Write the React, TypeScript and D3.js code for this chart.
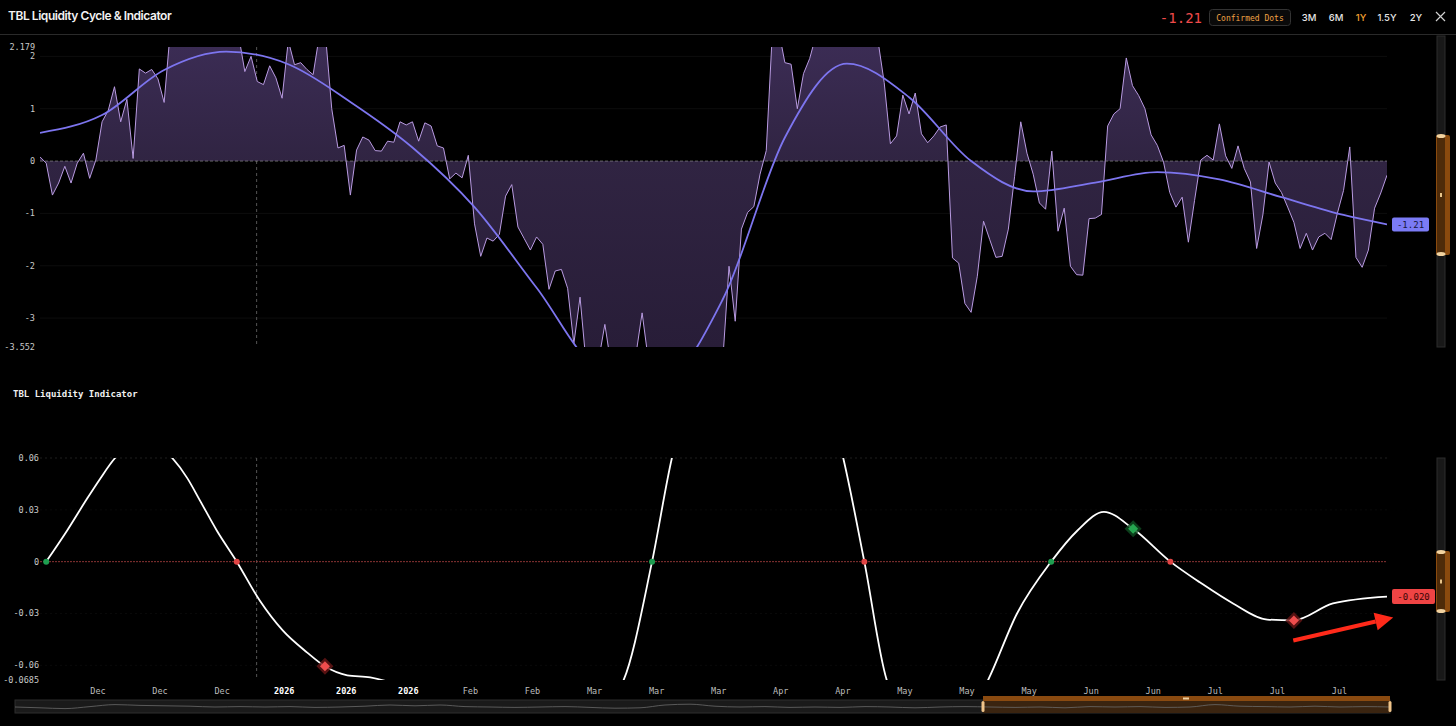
import React, { useEffect } from "react";
import * as d3 from "d3";

// ---- data ----
const tickLabels = [
  "Dec", "Dec", "Dec", "2026", "2026", "2026", "Feb", "Feb", "Mar", "Mar", "Mar",
  "Apr", "Apr", "May", "May", "May", "Jun", "Jun", "Jul", "Jul", "Jul",
];
const firstTickDay = 9.34;
const tickStepDays = 10;

// daily liquidity cycle (raw)
const cycleRaw = [
  0.08, -0.04, -0.65, -0.42, -0.1, -0.42, -0.04, 0.15, -0.33, 0.02,
  0.75, 0.97, 1.42, 0.75, 1.18, 0.05, 1.76, 1.68, 1.75, 1.57,
  1.12, 2.5, 2.7, 2.9, 3.1, 3.0, 2.8, 2.9, 3.1, 3.0,
  2.7, 2.6, 2.4, 1.71, 2.0, 1.52, 1.46, 1.82, 1.59, 1.2,
  2.3, 1.84, 1.88, 1.75, 1.65, 2.4, 2.4, 1.0, 0.25, 0.3,
  -0.65, 0.21, 0.46, 0.4, 0.2, 0.19, 0.38, 0.36, 0.75, 0.69,
  0.75, 0.38, 0.73, 0.67, 0.29, 0.25, -0.34, -0.23, -0.32, 0.11,
  -1.2, -1.82, -1.47, -1.53, -1.4, -0.67, -0.45, -1.26, -1.48, -1.7,
  -1.45, -1.59, -2.45, -2.1, -2.07, -2.43, -3.49, -2.6, -3.9, -4.1,
  -3.8, -3.12, -3.9, -4.2, -4.0, -3.9, -3.7, -2.9, -3.8, -4.1,
  -4.3, -4.4, -4.2, -4.0, -4.3, -4.5, -4.2, -4.0, -3.9, -4.1,
  -3.8, -2.01, -3.06, -1.3, -0.98, -0.87, -0.25, 0.2, 2.5, 2.5,
  1.88, 1.85, 1.0, 1.67, 1.96, 2.4, 2.6, 2.8, 2.7, 2.9,
  3.0, 2.8, 2.7, 2.6, 2.5, 2.3, 1.5, 0.33, 0.48, 1.26,
  0.9, 1.3, 0.52, 0.35, 0.48, 0.65, 0.69, -1.85, -1.95, -2.72,
  -2.89, -2.2, -1.15, -1.5, -1.84, -1.82, -1.3, -0.3, 0.75, 0.15,
  -0.25, -0.8, -0.92, 0.19, -1.34, -0.9, -2.01, -2.17, -2.18, -1.1,
  -1.09, -1.02, 0.67, 0.9, 1.0, 1.97, 1.44, 1.25, 1.0, 0.5,
  0.3, -0.02, -0.6, -0.88, -0.69, -1.55, -0.75, 0.02, 0.11, 0.02,
  0.71, 0.1, -0.14, 0.29, -0.14, -0.4, -1.67, -1.03, -0.02, -0.42,
  -0.6, -0.88, -1.17, -1.67, -1.38, -1.7, -1.45, -1.38, -1.5, -1.0,
  -0.56, 0.27, -1.84, -2.03, -1.7, -0.9, -0.61, -0.27,
];

// smoothed cycle
const smoothDays = [0, 10, 20, 30, 40, 50, 60, 70, 80, 90, 100, 110, 120, 130, 140, 150, 160, 170, 180, 190, 200, 210, 217];
const smoothValues = [0.54, 0.88, 1.74, 2.09, 1.85, 1.13, 0.26, -0.88, -2.42, -3.95, -4.2, -2.64, 0.45, 1.86, 1.22, 0.0, -0.58, -0.41, -0.21, -0.35, -0.69, -1.03, -1.21];

const cycleTicks = [2, 1, 0, -1, -2, -3];
const cycleExtent = [-3.552, 2.179];

// liquidity indicator
const indicatorDays = [
  1.0, 4.35, 7.57, 9.67, 12.1, 16.6, 21.3, 23.7, 25.8, 28.5, 31.7, 35.4, 39.1, 43.0, 45.9,
  49.5, 53.2, 56.1, 66, 77.3, 88.6, 93.9, 98.6, 101.8, 106.3, 115.5, 124.9, 129.4, 132.8,
  136.5, 144.5, 152.6, 157.4, 162.9, 167.1, 171.4, 176.1, 182.1, 186.9, 192.2, 197.7,
  201.9, 208.3, 217,
];
const indicatorValues = [
  0.0, 0.0179, 0.0364, 0.0479, 0.06, 0.071, 0.06, 0.0485, 0.0352, 0.0179, 0.0, -0.0225,
  -0.0398, -0.0525, -0.0606, -0.0658, -0.067, -0.0695, -0.085, -0.1, -0.09, -0.0695, 0.0,
  0.06, 0.11, 0.15, 0.115, 0.06, 0.0, -0.0695, -0.11, -0.0695, -0.03, 0.0, 0.0179, 0.0288,
  0.019, 0.0, -0.0121, -0.0242, -0.0335, -0.034, -0.0242, -0.0202,
];
const indicatorTicks = [0.06, 0.03, 0, -0.03, -0.06];
const indicatorExtent = [-0.0685, 0.06];

const crossDays = [1.0, 31.7, 98.6, 132.8, 162.9, 182.1];
const crossUp = [true, false, true, false, true, false];

const signalDays = [45.9, 176.1, 202.0];
const signalValues = [-0.0606, 0.019, -0.034];
const signalBuy = [false, true, false];

// annotation arrow (day, indicator value)
const arrowFrom = [201.9, -0.0456];
const arrowTo = [218.0, -0.0323];

const navigatorValues = [
  0, -0.2, -0.4, 0.1, 0.6, 0.4, 0.3, 0.2, 0, 0.1, 0, 0.1, -0.1, 0, 0.2, 0.5, 0.3, 0.5, 0.1, 0,
  -0.1, 0, 0.1, -0.1, -0.3, -0.2, 0.5, 0.7, 0.2, 0, 0.1, -0.1, 0, -0.1, 0.1, 0, -0.2, 0, 0.1, 0,
  -0.1, 0, -0.2, 0.1, 0, 0.1, -0.1, 0, 0.6, 0.2, 0.1, 0, 0.2, 0, 0.1, 0,
];

const ranges = ["3M", "6M", "1Y", "1.5Y", "2Y"];
const activeRange = "1Y";

// ---- layout ----
const W = 1456;
const H = 726;
const left = 40;
const right = 1387;
const topT = 47;
const topB = 347;
const botT = 458;
const botB = 680;
const crosshairDay = 34.9;

const mono = "'DejaVu Sans Mono', 'Liberation Mono', monospace";
const sans = "Inter, 'Noto Sans', sans-serif";

export default function App() {
  useEffect(() => {
    document.body.style.margin = "0";
    document.body.style.background = "#000";
  }, []);

  const x = d3.scaleLinear().domain([0, cycleRaw.length - 1]).range([left, right]);
  const yTop = d3.scaleLinear().domain(cycleExtent).range([topB, topT]);
  const yBot = d3.scaleLinear().domain(indicatorExtent).range([botB, botT]);

  const rawLine = d3
    .line<number>()
    .x((_, i) => x(i))
    .y((d) => yTop(d));
  const rawArea = d3
    .area<number>()
    .x((_, i) => x(i))
    .y0(yTop(0))
    .y1((d) => yTop(d));
  const smoothLine = d3
    .line<number>()
    .x((_, i) => x(smoothDays[i]))
    .y((d) => yTop(d))
    .curve(d3.curveMonotoneX);
  const indLine = d3
    .line<number>()
    .x((_, i) => x(indicatorDays[i]))
    .y((d) => yBot(d))
    .curve(d3.curveMonotoneX);

  const xNav = d3.scaleLinear().domain([0, navigatorValues.length - 1]).range([15, 1390]);
  const yNav = d3.scaleLinear().domain([-1, 1]).range([711, 703]);
  const navLine = d3
    .line<number>()
    .x((_, i) => xNav(i))
    .y((d) => yNav(d))
    .curve(d3.curveMonotoneX);

  const lastSmooth = smoothValues[smoothValues.length - 1];
  const lastInd = indicatorValues[indicatorValues.length - 1];

  const diamond = (s: number) => `M0,${-s}L${s},0L0,${s}L${-s},0Z`;

  // arrow geometry
  const ax0 = x(arrowFrom[0]);
  const ay0 = yBot(arrowFrom[1]);
  const ax1 = x(arrowTo[0]);
  const ay1 = yBot(arrowTo[1]);
  const ang = Math.atan2(ay1 - ay0, ax1 - ax0);
  const headLen = 18;
  const headW = 9;
  const bx = ax1 - headLen * Math.cos(ang);
  const by = ay1 - headLen * Math.sin(ang);
  const headPts = [
    [ax1, ay1],
    [bx + headW * Math.sin(ang), by - headW * Math.cos(ang)],
    [bx - headW * Math.sin(ang), by + headW * Math.cos(ang)],
  ]
    .map((p) => p.join(","))
    .join(" ");

  const vScroll = (t: number, b: number, ht: number, hb: number) => (
    <g>
      <rect x={1437} y={t} width={8} height={b - t} fill="#181818" stroke="#2c2c2c" strokeWidth={1} />
      <rect x={1436} y={ht} width={14} height={hb - ht} rx={2} fill="#8a4a0e" />
      <rect x={1437} y={ht} width={8} height={hb - ht} fill="#4e2b09" />
      <ellipse cx={1441} cy={ht + 1} rx={4.5} ry={2} fill="#f2d3a0" />
      <ellipse cx={1441} cy={hb - 1} rx={4.5} ry={2} fill="#f2d3a0" />
      <rect x={1440} y={(ht + hb) / 2 - 2} width={2} height={4} fill="#e8c58a" />
    </g>
  );

  return (
    <svg width={W} height={H} style={{ display: "block", background: "#000" }}>
      <defs>
        <clipPath id="clipTop">
          <rect x={left} y={topT} width={right - left} height={topB - topT} />
        </clipPath>
        <clipPath id="clipBot">
          <rect x={left - 6} y={botT} width={right - left + 8} height={botB - botT} />
        </clipPath>
        <linearGradient id="cycleFill" gradientUnits="userSpaceOnUse" x1={0} y1={topT} x2={0} y2={topB}>
          <stop offset="0" stopColor="#3b2c54" />
          <stop offset="0.38" stopColor="#302442" />
          <stop offset="1" stopColor="#281d38" />
        </linearGradient>
      </defs>

      {/* header */}
      <text x={8} y={20} fill="#f2f2f2" fontFamily={sans} fontSize={12} fontWeight={600} letterSpacing={-0.45}>
        TBL Liquidity Cycle &amp; Indicator
      </text>
      <text x={1202} y={23} textAnchor="end" fill="#ef4a4a" fontFamily={mono} fontSize={14}>
        {lastSmooth.toFixed(2)}
      </text>
      <rect x={1209.5} y={9.5} width={81} height={16} rx={3} fill="#0a0a0a" stroke="#333" />
      <text x={1250} y={20.5} textAnchor="middle" fill="#f0a245" fontFamily={mono} fontSize={8}>
        Confirmed Dots
      </text>
      {ranges.map((r, i) => (
        <text
          key={r}
          x={[1309, 1336, 1361, 1387, 1416][i]}
          y={21}
          textAnchor="middle"
          fill={r === activeRange ? "#f5a030" : "#e6e6e6"}
          fontFamily={sans}
          fontSize={9.5}
          fontWeight={500}
        >
          {r}
        </text>
      ))}
      <path d="M1436,12L1445,21M1445,12L1436,21" stroke="#d0d0d0" strokeWidth={1.2} />
      <line x1={0} x2={W} y1={34.5} y2={34.5} stroke="#2a2a2a" />

      {/* top panel */}
      {cycleTicks.map((t) => (
        <line key={t} x1={left} x2={right} y1={yTop(t)} y2={yTop(t)} stroke="#ffffff" strokeOpacity={0.05} />
      ))}
      <line x1={x(crosshairDay)} x2={x(crosshairDay)} y1={topT} y2={topB} stroke="#555" strokeDasharray="3 3" />
      <g clipPath="url(#clipTop)">
        <path d={rawArea(cycleRaw) || ""} fill="url(#cycleFill)" />
        <path d={rawLine(cycleRaw) || ""} fill="none" stroke="#b99be2" strokeWidth={1} />
      </g>
      <line x1={left} x2={right} y1={yTop(0)} y2={yTop(0)} stroke="#999" strokeOpacity={0.75} strokeDasharray="3 2" strokeWidth={0.8} />
      <g clipPath="url(#clipTop)">
        <path d={smoothLine(smoothValues) || ""} fill="none" stroke="#7d75ef" strokeWidth={1.8} />
      </g>
      {[cycleExtent[1], ...cycleTicks, cycleExtent[0]].map((t, i) => (
        <text
          key={i}
          x={35}
          y={yTop(t)}
          dy="0.35em"
          textAnchor="end"
          fill="#c8c8c8"
          fontFamily={mono}
          fontSize={8.5}
        >
          {String(t)}
        </text>
      ))}
      <rect x={1392} y={yTop(lastSmooth) - 7} width={37} height={14} rx={2} fill="#7b7bf5" />
      <text x={1410.5} y={yTop(lastSmooth)} dy="0.35em" textAnchor="middle" fill="#16163a" fontFamily={mono} fontSize={9}>
        {lastSmooth.toFixed(2)}
      </text>
      {vScroll(36, 347, 135, 255)}

      {/* bottom panel */}
      <text x={13} y={397} fill="#f0f0f0" fontFamily={mono} fontSize={9} fontWeight={700}>
        TBL Liquidity Indicator
      </text>
      {indicatorTicks.map((t) =>
        t === 0 ? null : (
          <line
            key={t}
            x1={left}
            x2={right}
            y1={yBot(t)}
            y2={yBot(t)}
            stroke="#ffffff"
            strokeOpacity={t === indicatorExtent[1] ? 0.12 : 0.04}
            strokeDasharray="2 3"
          />
        )
      )}
      <line x1={x(crosshairDay)} x2={x(crosshairDay)} y1={botT} y2={botB} stroke="#555" strokeDasharray="3 3" />
      <line x1={left} x2={right} y1={yBot(0)} y2={yBot(0)} stroke="#8a3434" strokeWidth={1} strokeDasharray="2 1" />
      <g clipPath="url(#clipBot)">
        <path d={indLine(indicatorValues) || ""} fill="none" stroke="#ffffff" strokeWidth={1.8} />
      </g>
      {crossDays.map((d, i) => (
        <circle key={i} cx={x(d)} cy={yBot(0)} r={3} fill={crossUp[i] ? "#1e9e50" : "#e24545"} />
      ))}
      {signalDays.map((d, i) => (
        <g key={i} transform={`translate(${x(d)},${yBot(signalValues[i])})`}>
          <path d={diamond(8.5)} fill={signalBuy[i] ? "#0f4d22" : "#6a1616"} fillOpacity={0.8} />
          <path d={diamond(5)} fill={signalBuy[i] ? "#25a650" : "#ef4d4d"} />
        </g>
      ))}
      {indicatorTicks.map((t) => (
        <text key={t} x={39} y={yBot(t)} dy="0.35em" textAnchor="end" fill="#c8c8c8" fontFamily={mono} fontSize={8.5}>
          {String(t)}
        </text>
      ))}
      <text x={39} y={yBot(indicatorExtent[0])} dy="0.35em" textAnchor="end" fill="#c8c8c8" fontFamily={mono} fontSize={8.5}>
        {String(indicatorExtent[0])}
      </text>
      <rect x={1392} y={yBot(lastInd) - 7.5} width={43} height={15} rx={2} fill="#ef4444" />
      <text x={1413.5} y={yBot(lastInd)} dy="0.35em" textAnchor="middle" fill="#3a0606" fontFamily={mono} fontSize={9}>
        {lastInd.toFixed(3)}
      </text>
      {vScroll(458, 680, 551, 612)}

      {/* annotation arrow */}
      <line x1={ax0} y1={ay0} x2={bx} y2={by} stroke="#ff2a1a" strokeWidth={4} />
      <polygon points={headPts} fill="#ff2a1a" />

      {/* x axis */}
      {tickLabels.map((lab, i) => (
        <text
          key={i}
          x={x(firstTickDay + i * tickStepDays)}
          y={691}
          dy="0.35em"
          textAnchor="middle"
          fill={lab === "2026" ? "#ffffff" : "#bdbdbd"}
          fontWeight={lab === "2026" ? 700 : 400}
          fontFamily={mono}
          fontSize={8.5}
        >
          {lab}
        </text>
      ))}

      {/* navigator */}
      <rect x={15} y={700} width={1375} height={13} fill="#1a1a1a" stroke="#2e2e2e" />
      <rect x={983} y={700} width={407} height={13} fill="#3a2410" />
      <rect x={983} y={696} width={407} height={5} fill="#8a4a10" />
      <rect x={1183} y={697.5} width={6} height={2} fill="#f0d0a0" />
      <path d={navLine(navigatorValues) || ""} fill="none" stroke="#6a6a6a" strokeWidth={0.8} />
      <rect x={981.5} y={701} width={3} height={11} rx={1.5} fill="#f0c48a" />
      <rect x={1388.5} y={701} width={3} height={11} rx={1.5} fill="#f0c48a" />
    </svg>
  );
}
